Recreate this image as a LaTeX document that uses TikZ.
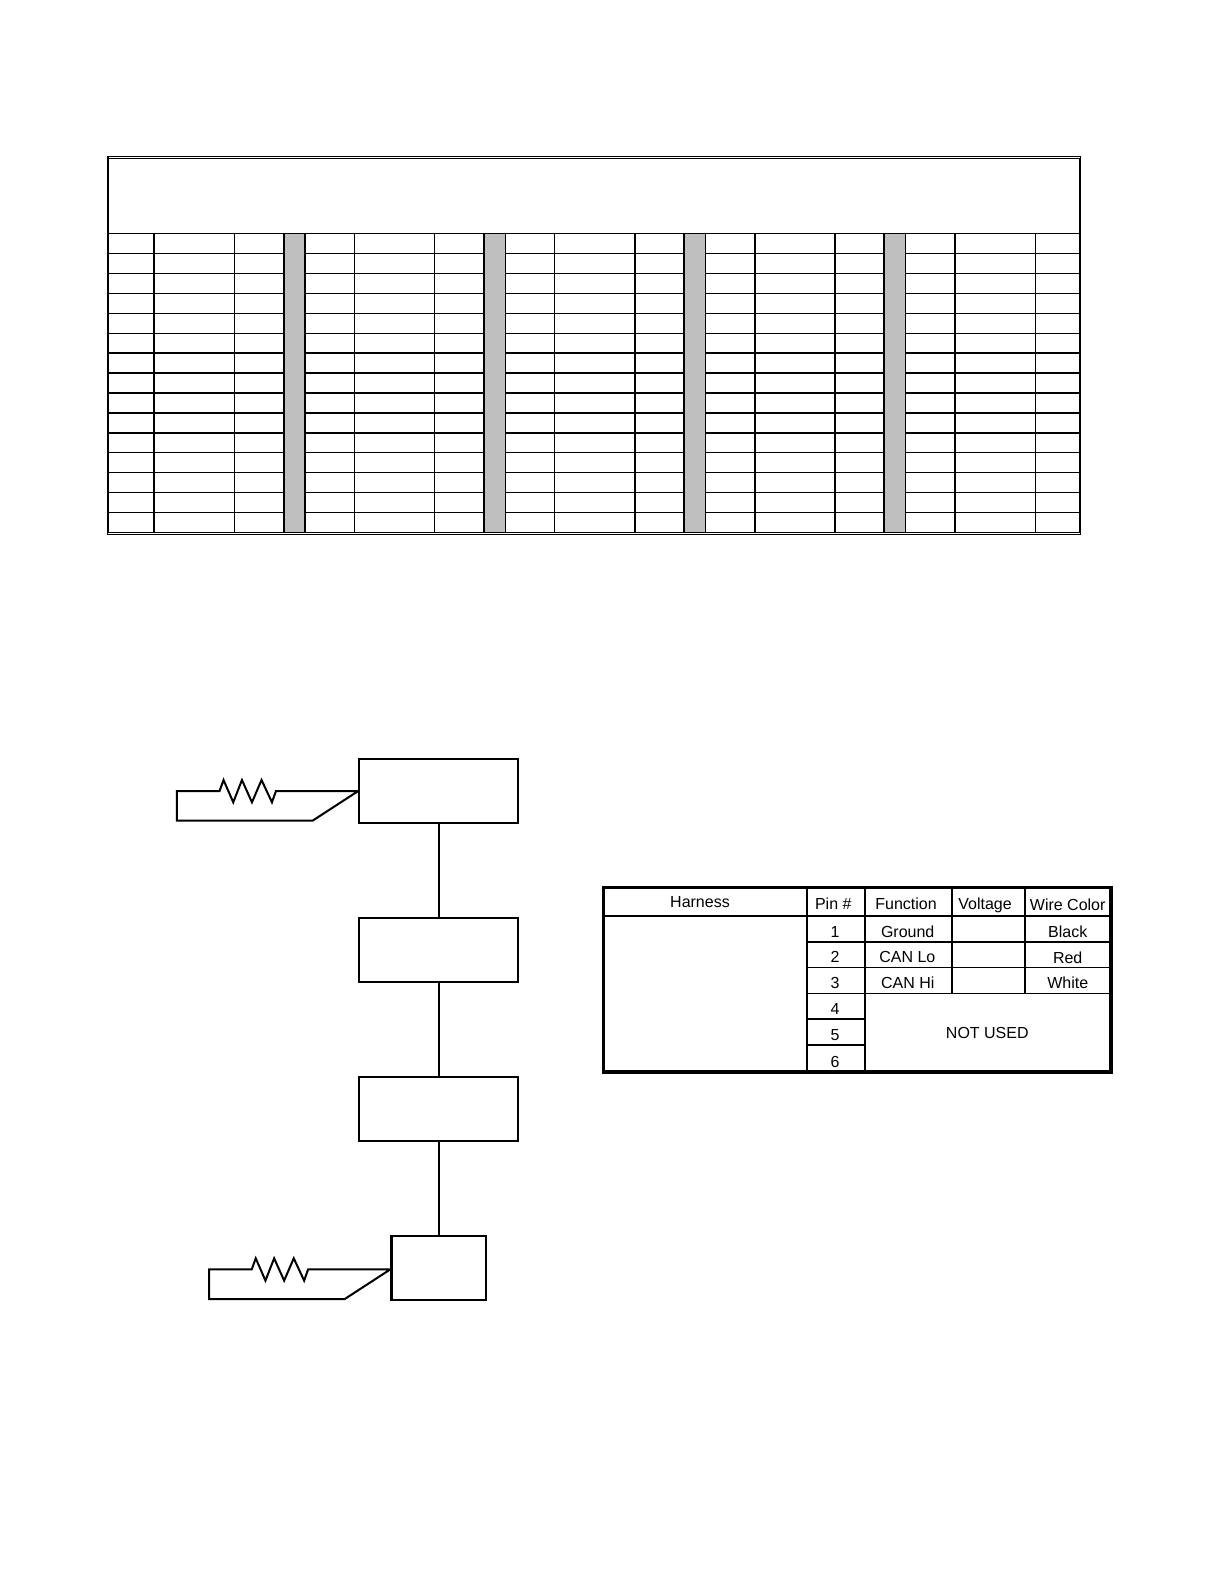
\documentclass[tikz,border=0pt]{standalone}
\usepackage{fontspec}
\setmainfont{Liberation Sans}
\usepackage{xcolor}
\usetikzlibrary{calc}
\definecolor{spacer}{HTML}{BFBFBF}
\tikzset{
  unit/.style={draw=black,line width=1.05pt,inner sep=0pt,minimum width=79.5pt,minimum height=32pt},
  unitb/.style={unit,minimum width=47.3pt},
  wire/.style={draw=black,line width=1pt,line join=miter},
  thin rule/.style={draw=black,line width=0.6pt},
  thick rule/.style={draw=black,line width=1.1pt},
  hline/.style={draw=black,line width=0.8pt},
  hhead/.style={draw=black,line width=1.2pt},
  hframe/.style={draw=black,line width=1.7pt},
  cell/.style={inner sep=0pt,font=\fontsize{8}{9.6}\selectfont},
}
\begin{document}
\begin{tikzpicture}[x=0.5pt,y=-0.5pt]
  \useasboundingbox (0,0) rectangle (1224,1584);
  % upper grid
  \draw[thin rule] (107.7,156.7) rectangle (1080.7,534.3);
  \draw[thin rule] (108.5,158.5) rectangle (1080,532.3);
  \draw[thick rule] (108,157) -- (108,533);
  \foreach \yy in {233.5,253.5,273.5,293.5,313.5,333.5,452.5,472.5,492.5,512.5}
    \draw[thin rule] (108,\yy) -- (1080,\yy);
  \foreach \yy in {353,373,393,413,433}
    \draw[thick rule] (108,\yy) -- (1080,\yy);
  \foreach \xa/\xb in {283.7/305,483.7/505.3,684/705,883.6/905.3}
    \fill[spacer] (\xa,233.8) rectangle (\xb,532);
  \foreach \xx in {234.5,354.5,434.5,505.5,554.5,705.5,905.5,1035.5}
    \draw[thin rule] (\xx,233.3) -- (\xx,532.3);
  \foreach \xx in {154,284,305,484,635,684,755,835,884,955}
    \draw[thick rule] (\xx,233.3) -- (\xx,532.3);
  % units on the bus
  \node[unit] (ua) at (438.8,791) {};
  \node[unit] (ub) at (438.8,949.8) {};
  \node[unit] (uc) at (438.8,1108.8) {};
  \node[unitb] (ud) at (438.8,1267.8) {};
  \draw[wire] (ua) -- (ub);
  \draw[wire] (ub) -- (uc);
  \draw[wire] (uc) -- (ud);
  \foreach \u/\dy in {ua/0,ud/1.5}
    \draw[wire] ($(\u.west)+(0,\dy)$) -- ++(-82.3,0) -- ++(-4,11.3) -- ++(-10.4,-22.3) -- ++(-9.6,22.3)
      -- ++(-10,-22.3) -- ++(-8.7,22.3) -- ++(-9.7,-22.3) -- ++(-4,11) -- ++(-42.6,0)
      -- ++(0,29.7) -- ++(135.6,0) -- ($(\u.west)+(0,\dy)$);
  % harness table
  \draw[hframe] (603.3,887.7) rectangle (1111,1072);
  \draw[hhead] (603.3,915.7) -- (1111,915.7);
  \draw[hhead] (806.7,887.7) -- (806.7,1072);
  \draw[hhead] (865.2,887.7) -- (865.2,1072);
  \draw[hhead] (951.7,887.7) -- (951.7,993.3);
  \draw[hhead] (1025.2,887.7) -- (1025.2,993.3);
  \foreach \yy in {941.7,967.3,993.3}
    \draw[hline] (806.7,\yy) -- (1111,\yy);
  \foreach \yy in {1018.7,1045}
    \draw[hline] (806.7,\yy) -- (865.2,\yy);
  \node[cell] (hharness) at (700,902) {Harness};
  \node[cell] (hpin) at (833.3,904) {Pin \#};
  \node[cell] (hfunc) at (906,903.4) {Function};
  \node[cell] (hvolt) at (985,905) {Voltage};
  \node[cell] (hwire) at (1067.7,904.8) {Wire Color};
  \foreach \n/\yy in {1/931.8,2/957.4,3/983,4/1009,5/1035,6/1062}
    \node[cell] (pin\n) at (835,\yy) {\n};
  \node[cell] (fground) at (907.7,932) {Ground};
  \node[cell] (fcanlo) at (907.3,957.4) {CAN Lo};
  \node[cell] (fcanhi) at (907.7,983) {CAN Hi};
  \node[cell] (wblack) at (1067.7,932) {Black};
  \node[cell] (wred) at (1067.7,957.4) {Red};
  \node[cell] (wwhite) at (1067.7,983) {White};
  \node[cell] (unused) at (987.3,1033) {NOT USED};
\end{tikzpicture}
\end{document}
